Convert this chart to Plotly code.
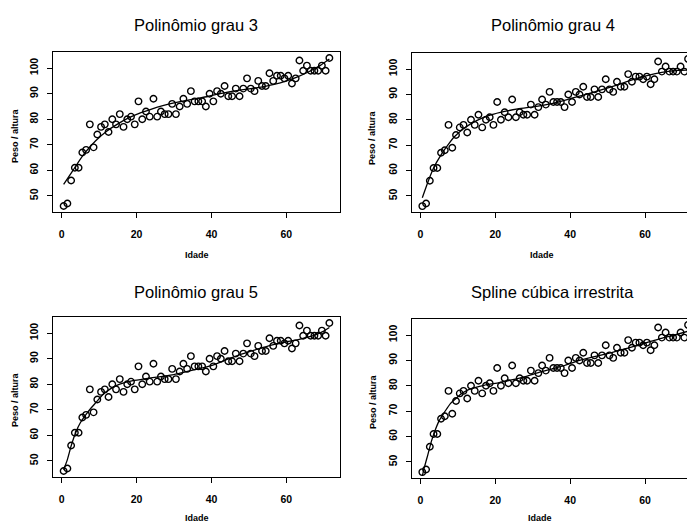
import plotly.graph_objects as go

W, H = 687, 526

# ---- data ----
idade = [i + 0.5 for i in range(72)]
peso_altura = [46, 47, 56, 61, 61, 67, 68, 78, 69, 74, 77, 78, 75, 80, 78, 82, 77, 80, 81, 78,
               87, 80, 83, 81, 88, 81, 83, 82, 82, 86, 82, 85, 88, 86, 91, 87, 87, 87, 85, 90,
               87, 91, 90, 93, 89, 89, 92, 89, 92, 96, 92, 91, 95, 93, 93, 98, 95, 97, 97, 96,
               97, 94, 96, 103, 99, 101, 99, 99, 99, 101, 99, 104]

fit3_x = [0.5, 3, 6, 9, 12, 15, 18, 21, 24, 27, 30, 33, 36, 39, 42, 45, 48, 51, 54, 57, 60, 63, 66, 69, 71.5]
fit3_y = [54.5, 60.0, 66.5, 71.5, 75.3, 78.2, 80.6, 82.5, 84.0, 85.3, 86.4, 87.3, 88.1, 88.9, 89.9,
          90.8, 91.5, 92.1, 92.8, 93.7, 95.0, 96.6, 98.6, 101.0, 103.6]

fit4_x = [0.5, 2, 3.5, 5.5, 7.5, 9, 11.5, 15, 19, 22.5, 26, 30, 33, 37.5, 42, 46.5, 51, 55.5, 60, 64.5, 69, 71.5]
fit4_y = [49.3, 55.5, 61.0, 66.2, 70.4, 73.2, 76.5, 79.7, 82.0, 83.3, 84.3, 85.1, 85.8, 87.3, 89.1,
          91.0, 93.0, 95.2, 97.2, 98.7, 99.5, 99.6]

fit5_x = [0.5, 1.5, 2.5, 3.7, 5, 6.5, 8, 9.5, 11, 13, 15.5, 19, 22.5, 26, 30, 33, 37, 40, 44, 48, 52,
          56, 60, 64, 67, 70, 71.5]
fit5_y = [46.5, 50.5, 55.8, 61.0, 65.0, 68.2, 71.0, 73.5, 76.0, 78.2, 80.0, 81.4, 82.2, 82.9, 83.8,
          84.8, 86.2, 87.3, 89.6, 91.8, 93.6, 95.3, 96.6, 97.8, 98.9, 100.8, 102.2]

spl_x = [0.5, 1, 2, 3, 4, 5, 6.5, 8, 9.5, 11, 13.5, 17, 20.5, 24, 28, 31.5, 35, 38.5, 42.5, 46.5,
         50.5, 54.5, 58.5, 62, 65, 68, 71.5]
spl_y = [44.5, 47.6, 53.0, 58.5, 62.8, 66.3, 69.8, 73.0, 75.0, 77.0, 78.9, 80.2, 81.1, 82.2, 83.6,
         85.2, 86.6, 88.0, 90.0, 91.5, 92.9, 94.5, 96.1, 97.7, 99.0, 100.0, 101.5]

titulos = ["Polinômio grau 3", "Polinômio grau 4", "Polinômio grau 5", "Spline cúbica irrestrita"]
curvas = [(fit3_x, fit3_y), (fit4_x, fit4_y), (fit5_x, fit5_y), (spl_x, spl_y)]
x_ticks = [0, 20, 40, 60]
y_ticks = [50, 60, 70, 80, 90, 100]

# ---- layout geometry (pixels) ----
# (left, right, top, bottom) of each plot box
boxes = [(53, 340, 52, 212), (411.7, 687, 53, 212), (53, 340, 317, 477), (411.7, 687, 319, 478)]
PXU = 287 / 76.68  # pixels per x unit
XR0 = -2.34
YR = [43.68, 106.32]

fig = go.Figure()
font_fam = "Liberation Sans, Arial, sans-serif"

for i, (l, r, t, b) in enumerate(boxes):
    n = "" if i == 0 else str(i + 1)
    xa, ya = "x" + n, "y" + n
    fig.add_trace(go.Scatter(x=idade, y=peso_altura, mode="markers", xaxis=xa, yaxis=ya,
                             marker=dict(symbol="circle-open", size=6.5, color="black",
                                         line=dict(width=1.4, color="black")),
                             showlegend=False, hoverinfo="skip"))
    cx, cy = curvas[i]
    fig.add_trace(go.Scatter(x=cx, y=cy, mode="lines", xaxis=xa, yaxis=ya,
                             line=dict(color="black", width=1.3, shape="spline", smoothing=0.6),
                             showlegend=False, hoverinfo="skip"))
    xr1 = XR0 + (r - l) / PXU
    right_cut = i in (1, 3)
    axis_common = dict(showgrid=False, zeroline=False, showline=True, linecolor="black",
                       linewidth=1, ticks="outside", ticklen=5, tickwidth=1, tickcolor="black",
                       tickfont=dict(family=font_fam, size=10.5, color="black", weight="bold"))
    fig.layout["xaxis" + n] = dict(domain=[l / W, r / W], anchor=ya, range=[XR0, xr1],
                                   tickvals=x_ticks, mirror=True, ticklabelstandoff=7,
                                   **axis_common)
    fig.layout["yaxis" + n] = dict(domain=[1 - b / H, 1 - t / H], anchor=xa, range=YR,
                                   tickvals=y_ticks, tickangle=-90, mirror=not right_cut,
                                   ticklabelstandoff=5, **axis_common)

# titles and axis labels as annotations
title_pos = [(196, 25), (553, 25), (196, 292), (552, 292)]
xlab_pos = [(197, 255), (542, 255), (197, 518), (540, 518)]
ylab_pos = [(15, 136), (372, 138), (15, 400), (373, 402)]
for i in range(4):
    tx, ty = title_pos[i]
    fig.add_annotation(x=tx / W, y=1 - ty / H, xref="paper", yref="paper", text=titulos[i],
                       showarrow=False, xanchor="center", yanchor="middle",
                       font=dict(family=font_fam, size=16.5, color="black"))
    lx, ly = xlab_pos[i]
    fig.add_annotation(x=lx / W, y=1 - ly / H, xref="paper", yref="paper", text="Idade",
                       showarrow=False, xanchor="center", yanchor="middle",
                       font=dict(family=font_fam, size=9, color="black", weight="bold"))
    vx, vy = ylab_pos[i]
    fig.add_annotation(x=vx / W, y=1 - vy / H, xref="paper", yref="paper", text="Peso / altura",
                       showarrow=False, xanchor="center", yanchor="middle", textangle=-90,
                       font=dict(family=font_fam, size=9, color="black", weight="bold"))

fig.update_layout(width=W, height=H, margin=dict(l=0, r=0, t=0, b=0),
                  paper_bgcolor="white", plot_bgcolor="white")

fig.write_html("out.html")
